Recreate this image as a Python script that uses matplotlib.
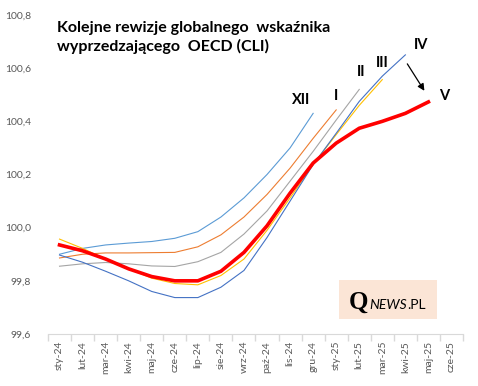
import numpy as np
import matplotlib
matplotlib.use("Agg")
import matplotlib.pyplot as plt
from matplotlib.patches import Rectangle

plt.rcParams['font.family'] = ['Lato', 'DejaVu Sans']

months = ['sty-24', 'lut-24', 'mar-24', 'kwi-24', 'maj-24', 'cze-24', 'lip-24', 'sie-24',
          'wrz-24', 'paź-24', 'lis-24', 'gru-24', 'sty-25', 'lut-25', 'mar-25', 'kwi-25',
          'maj-25', 'cze-25']

# kolejne rewizje CLI (publikacje XII..V)
rev_xii = [99.90, 99.922, 99.935, 99.942, 99.948, 99.96, 99.985, 100.04, 100.112, 100.20,
           100.30, 100.43]
rev_i = [99.886, 99.90, 99.905, 99.905, 99.906, 99.907, 99.928, 99.973, 100.04, 100.125,
         100.224, 100.336, 100.443]
rev_ii = [99.855, 99.864, 99.869, 99.864, 99.856, 99.854, 99.872, 99.907, 99.976, 100.063,
          100.175, 100.287, 100.405, 100.52]
rev_iii = [99.957, 99.922, 99.882, 99.845, 99.81, 99.79, 99.785, 99.82, 99.882, 99.99,
           100.112, 100.238, 100.35, 100.46, 100.557]
rev_iv = [99.897, 99.87, 99.836, 99.80, 99.76, 99.737, 99.737, 99.776, 99.839, 99.963,
          100.10, 100.237, 100.355, 100.475, 100.57, 100.65]
rev_v = [99.935, 99.913, 99.882, 99.845, 99.816, 99.80, 99.80, 99.836, 99.907, 100.007,
         100.13, 100.243, 100.318, 100.374, 100.40, 100.43, 100.473]

series = [
    (rev_xii, '#5B9BD5', 0.8),
    (rev_i, '#ED7D31', 0.8),
    (rev_ii, '#A5A5A5', 0.8),
    (rev_iii, '#FFC000', 0.8),
    (rev_iv, '#4472C4', 0.8),
    (rev_v, '#FF0000', 2.6),
]

fig = plt.figure(figsize=(4.78, 3.86), dpi=100)
ax = fig.add_axes([48 / 478, 52 / 386, 415 / 478, 319 / 386])

for vals, color, lw in series:
    ax.plot(np.arange(len(vals)), vals, color=color, lw=lw, solid_joinstyle='round')

ax.set_xlim(-0.5, len(months) - 0.5)
ax.set_ylim(99.6, 100.8)

yt = np.arange(99.6, 100.81, 0.2)
ax.set_yticks(yt)
ax.set_yticklabels([f"{v:.1f}".replace('.', ',') for v in yt], color='#595959', fontsize=7.5)
ax.tick_params(axis='y', length=0, pad=12)

ax.set_xticks(np.arange(len(months)))
ax.set_xticklabels(months, rotation=90, color='#595959', fontsize=7.5)
ax.set_xticks(np.arange(-0.5, len(months)), minor=True)
ax.tick_params(axis='x', which='major', length=0, pad=5)
ax.tick_params(axis='x', which='minor', length=5, color='#D9D9D9', width=1)

for s in ['top', 'right', 'left']:
    ax.spines[s].set_visible(False)
ax.spines['bottom'].set_color('#D9D9D9')

# opisy serii
labels = [('XII', 10.46, 100.48), ('I', 11.98, 100.495), ('II', 13.1, 100.585),
          ('III', 14.0, 100.62), ('IV', 15.67, 100.686), ('V', 16.67, 100.495)]
for txt, x, y in labels:
    ax.text(x, y, txt, fontsize=10.5, fontweight='bold', ha='center', va='center')

ax.annotate('', xy=(15.89, 100.506), xytext=(15.02, 100.625),
            arrowprops=dict(arrowstyle='-|>', color='black', lw=0.9, mutation_scale=10))

fig.text(57 / 478, 1 - 21 / 386,
         'Kolejne rewizje globalnego  wskaźnika\nwyprzedzającego  OECD (CLI)',
         fontsize=11.5, fontweight='bold', ha='left', va='top', linespacing=1.3)

# logo
fig.patches.append(Rectangle((339 / 478, 1 - 319 / 386), 98 / 478, 39 / 386,
                             transform=fig.transFigure, facecolor='#FBE5D6',
                             edgecolor='none', zorder=0))
fig.text(349 / 478, 1 - 309 / 386, 'Q', family='Liberation Serif', fontsize=18,
         fontweight='bold', ha='left', va='baseline')
t_news = fig.text(369 / 478, 1 - 309 / 386, 'NEWS', fontsize=10, style='italic',
                  ha='left', va='baseline')
fig.canvas.draw()
bb = t_news.get_window_extent()
fig.text((bb.x1 + 1) / 478, 1 - 309 / 386, '.PL', fontsize=10, ha='left', va='baseline')

fig.savefig('out.png', dpi=100)
